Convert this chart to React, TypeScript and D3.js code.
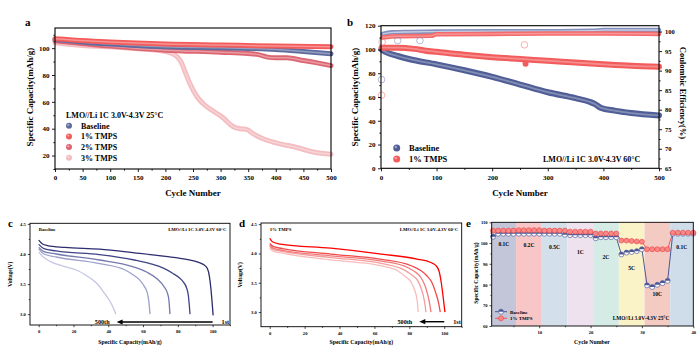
import { useEffect, useRef } from "react";
import * as d3 from "d3";

type Pt = [number, number];
const FONT = "'Liberation Serif','Times New Roman',serif";

// panel a: LMO//Li 1C 25°C cycling
const aBaseline: Pt[] = [[0, 106.5], [100, 103], [200, 101], [300, 100.2], [350, 99.8], [400, 99], [450, 97.5], [500, 95.8]];
const aTmps1: Pt[] = [[0, 107], [100, 104.5], [200, 103], [300, 102.3], [400, 101.6], [500, 101]];
const aTmps2: Pt[] = [[0, 105.5], [100, 101.5], [200, 98.5], [300, 97], [350, 96], [370, 95], [385, 93.3], [400, 92.8], [420, 92.8], [450, 90.8], [475, 89], [500, 87]];
const aTmps3: Pt[] = [[0, 104], [50, 102], [100, 101], [150, 99.5], [200, 97.5], [212, 96], [220, 94], [228, 90], [236, 82], [245, 73], [257, 64], [270, 58], [287, 53], [305, 48], [318, 43], [325, 41], [335, 40], [347, 39.5], [360, 36], [377, 32.5], [400, 29.5], [438, 26], [470, 22.5], [500, 21]];
const aNames = ["Baseline", "1% TMPS", "2% TMPS", "3% TMPS"];
const aColors = ["#5d6b9e", "#f35a5a", "#dc6571", "#f3bdc1"];

// panel b: 60°C cycling, capacity + coulombic efficiency
const bBase: Pt[] = [[1, 100], [10, 97.5], [30, 94.5], [50, 92], [100, 87.5], [150, 82.5], [200, 77], [250, 70.5], [300, 64], [350, 59], [375, 56], [385, 54], [395, 51], [420, 48.5], [450, 46.5], [500, 44.5]];
const bTmps: Pt[] = [[1, 101.5], [30, 101.5], [60, 100.5], [80, 99], [100, 98], [150, 95.5], [200, 93.5], [250, 92], [300, 90.5], [350, 89], [400, 87.5], [450, 86.2], [500, 85.5]];
const bBaseCE: Pt[] = [[3, 99.4], [20, 99.8], [50, 99.9], [100, 100], [200, 100.1], [300, 100.1], [380, 100.2], [400, 100.4], [500, 100.4]];
const bTmpsCE: Pt[] = [[3, 98.5], [30, 98.8], [90, 98.9], [100, 99.3], [200, 99.4], [300, 99.5], [400, 99.5], [500, 99.4]];
const bBaseCEOut: Pt[] = [[1, 87.7], [30, 97.7], [70, 97.7]];
const bTmpsCEOut: Pt[] = [[1, 83.7], [2, 97.3], [258, 96.6]];
const bTmpsCapOut: Pt[] = [[260, 88]];

// panel c: baseline discharge curves, 1st -> 500th
const cCurves: Pt[][] = [
  [[0, 4.23], [2, 4.17], [5, 4.14], [15, 4.11], [35, 4.08], [55, 4.02], [73, 3.96], [85, 3.91], [92, 3.86], [95, 3.82], [97, 3.76], [98.2, 3.62], [99, 3.43], [99.7, 3.2], [100.3, 2.98]],
  [[0, 4.16], [3, 4.09], [10, 4.05], [35, 3.99], [55, 3.9], [64, 3.84], [72, 3.76], [77, 3.68], [81, 3.6], [83, 3.54], [85, 3.44], [86, 3.32], [86.6, 3.15], [87, 3.0]],
  [[0, 4.11], [3, 4.04], [10, 4.0], [35, 3.9], [54, 3.79], [62, 3.7], [68, 3.59], [72, 3.46], [74, 3.35], [74.8, 3.25], [75.5, 3.0]],
  [[0, 4.08], [3, 4.0], [10, 3.95], [35, 3.84], [50, 3.73], [55, 3.64], [58, 3.57], [61, 3.45], [62.5, 3.35], [63.4, 3.2], [64, 3.0]],
  [[0, 4.03], [3, 3.94], [7, 3.87], [15, 3.79], [22, 3.73], [28, 3.63], [31, 3.57], [35, 3.46], [37, 3.38], [40, 3.26], [42, 3.16], [44.4, 3.0]],
];
const cColors = ["#2b2d6e", "#3f4487", "#7479ad", "#9da1c9", "#c4c6e2"];

// panel d: 1% TMPS discharge curves
const dCurves: Pt[][] = [
  [[0, 4.26], [1.5, 4.2], [6, 4.16], [35, 4.09], [64, 3.99], [85, 3.9], [92, 3.85], [95, 3.8], [97, 3.7], [98.3, 3.5], [99.2, 3.3], [100.4, 3.0]],
  [[0, 4.17], [2, 4.12], [8, 4.08], [35, 3.99], [64, 3.9], [81, 3.79], [87, 3.7], [90, 3.62], [93, 3.5], [95, 3.34], [96.8, 3.15], [97.7, 3.0]],
  [[0, 4.14], [2, 4.09], [8, 4.05], [35, 3.96], [64, 3.87], [79, 3.76], [84, 3.67], [86.6, 3.59], [89, 3.45], [90.4, 3.31], [91.6, 3.15], [92.4, 3.0]],
  [[0, 4.12], [2, 4.07], [8, 4.03], [35, 3.93], [64, 3.83], [77, 3.72], [82, 3.62], [84.7, 3.54], [86.8, 3.4], [88, 3.28], [89, 3.12], [89.5, 3.0]],
  [[0, 4.09], [2, 4.04], [8, 4.0], [35, 3.89], [64, 3.79], [73, 3.71], [78, 3.6], [81, 3.51], [83, 3.38], [84.3, 3.23], [84.8, 3.1], [85, 3.0]],
];
const dColors = ["#ff0000", "#ef4b4b", "#f17a7a", "#f49d9d", "#f7bcbc"];

// panel e: rate capability
const eCycles = d3.range(1, 41);
const eBaseline = [103, 104.5, 104.5, 104.5, 104.5, 104.5, 104.5, 104.5, 104.5, 104.5, 104.5, 104.5, 104.5, 104.5, 104, 103.8, 103.8, 103.8, 103.8, 103.8, 102.3, 102.8, 102.8, 102.8, 102.8, 94.5, 95.4, 95.7, 96.1, 97, 79.6, 78.8, 79.9, 80.7, 81.8, 104.5, 104.5, 104.5, 104.5, 104.5];
const eTmps = [106, 106, 106, 106, 106, 106.2, 106.2, 106.2, 106.2, 106.2, 106, 106, 106, 106, 106, 105.5, 105.5, 105.5, 105.5, 105.5, 104.6, 104.6, 104.6, 104.6, 104.6, 101.2, 101.2, 101, 100.8, 100.6, 97, 97, 97, 97, 97, 105, 105, 105, 105, 105];
const eRates = ["0.1C", "0.2C", "0.5C", "1C", "2C", "5C", "10C", "0.1C"];
const eEdges = [0.75, 5.5, 10.5, 15.5, 20.5, 25.5, 30.5, 35.5, 40];
const eBandColors = ["#c3c6d9", "#f8c6c6", "#d3dfea", "#eee2ee", "#d5ebe5", "#fbf3c8", "#f4cbc3", "#cfdce9"];
const eLabelY = [99.4, 99.1, 98.2, 95.8, 93.4, 88.1, 75.4, 98.2];

type G = d3.Selection<SVGGElement, unknown, null, undefined>;
type Lin = d3.ScaleLinear<number, number>;

function text(g: G, x: number, y: number, s: string, fs: number, anchor = "start", rot = 0) {
  const t = g.append("text").attr("x", x).attr("y", y).attr("font-family", FONT).attr("font-weight", "bold")
    .attr("font-size", fs).attr("text-anchor", anchor).attr("fill", "#000").text(s);
  if (rot) t.attr("transform", `rotate(${rot},${x},${y})`).attr("dominant-baseline", "central");
  return t;
}

function styleAxis(a: G, fs: number, w: number) {
  a.select(".domain").remove();
  a.selectAll("line").attr("stroke", "#000").attr("stroke-width", w);
  a.selectAll("text").attr("font-family", FONT).attr("font-weight", "bold").attr("font-size", fs).attr("fill", "#000");
}

type AxOpt = { xTicks: number[]; xMinor?: number[]; yTicks: number[]; yMinor?: number[]; fs: number; tick: number; pad: number; fw: number; yFmt?: (v: number) => string };

function drawAxes(g: G, x: Lin, y: Lin, o: AxOpt) {
  const [x0, x1] = x.range();
  const [yb, yt] = y.range();
  const bot = g.append("g").attr("transform", `translate(0,${yb})`)
    .call(d3.axisBottom(x).tickValues(o.xTicks).tickSize(o.tick).tickPadding(o.pad).tickFormat((d) => String(d)));
  styleAxis(bot, o.fs, o.fw * 0.8);
  if (o.xMinor) {
    const m = g.append("g").attr("transform", `translate(0,${yb})`)
      .call(d3.axisBottom(x).tickValues(o.xMinor).tickSize(o.tick * 0.55).tickFormat(() => ""));
    styleAxis(m, o.fs, o.fw * 0.8);
  }
  const left = g.append("g").attr("transform", `translate(${x0},0)`)
    .call(d3.axisLeft(y).tickValues(o.yTicks).tickSize(o.tick).tickPadding(o.pad * 0.7)
      .tickFormat((d) => (o.yFmt ? o.yFmt(+d) : String(d))));
  styleAxis(left, o.fs, o.fw * 0.8);
  if (o.yMinor) {
    const m = g.append("g").attr("transform", `translate(${x0},0)`)
      .call(d3.axisLeft(y).tickValues(o.yMinor).tickSize(o.tick * 0.55).tickFormat(() => ""));
    styleAxis(m, o.fs, o.fw * 0.8);
  }
  g.append("rect").attr("x", x0).attr("y", yt).attr("width", x1 - x0).attr("height", yb - yt)
    .attr("fill", "none").attr("stroke", "#000").attr("stroke-width", o.fw);
}

function band(g: G, d: string | null, color: string, w: number, hl = 0.35) {
  g.append("path").attr("d", d).attr("fill", "none").attr("stroke", color).attr("stroke-width", w)
    .attr("stroke-linejoin", "round").attr("stroke-linecap", "round");
  g.append("path").attr("d", d).attr("fill", "none").attr("stroke", "#fff").attr("stroke-opacity", hl)
    .attr("stroke-width", w * 0.3);
}

function drawA(g: G) {
  const x = d3.scaleLinear().domain([0, 500]).range([55, 331]);
  const y = d3.scaleLinear().domain([10, 115]).range([169, 28]);
  const line = d3.line<Pt>().x((d) => x(d[0])).y((d) => y(d[1])).curve(d3.curveMonotoneX);
  const series = [aBaseline, aTmps1, aTmps2, aTmps3];
  [3, 2, 0, 1].forEach((i) => band(g, line(series[i]), aColors[i], 5));
  drawAxes(g, x, y, { xTicks: d3.range(0, 501, 50), xMinor: d3.range(25, 500, 50), yTicks: [20, 40, 60, 80, 100], yMinor: [10, 30, 50, 70, 90, 110], fs: 7, tick: 3, pad: 3.5, fw: 1.1 });
  text(g, 25, 26, "a", 11);
  text(g, 193, 196, "Cycle Number", 9, "middle");
  text(g, 30, 97, "Specific Capacity(mAh/g)", 9, "middle", -90);
  text(g, 66, 117.5, "LMO//Li 1C 3.0V-4.3V 25°C", 8);
  aNames.forEach((n, i) => {
    const cy = 125.7 + i * 10.7;
    g.append("circle").attr("cx", 69).attr("cy", cy).attr("r", 3).attr("fill", aColors[i]);
    g.append("circle").attr("cx", 68.3).attr("cy", cy - 0.8).attr("r", 1.1).attr("fill", "#fff").attr("opacity", 0.45);
    text(g, 81, cy + 2.8, n, 8);
  });
}

function drawB(g: G) {
  const x = d3.scaleLinear().domain([0, 500]).range([381, 659]);
  const y = d3.scaleLinear().domain([0, 120]).range([168.3, 25.7]);
  const yR = d3.scaleLinear().domain([65, 101.5]).range([168.3, 25.7]);
  const line = d3.line<Pt>().x((d) => x(d[0])).y((d) => y(d[1])).curve(d3.curveMonotoneX);
  const lineR = d3.line<Pt>().x((d) => x(d[0])).y((d) => yR(d[1])).curve(d3.curveMonotoneX);
  band(g, lineR(bBaseCE), "#8391c0", 4.5, 0.55);
  band(g, lineR(bTmpsCE), "#f46a6a", 4.5, 0.3);
  band(g, line(bBase), "#4f5e96", 6, 0.3);
  band(g, line(bTmps), "#f25c5c", 6, 0.3);
  bBaseCEOut.forEach((p) => g.append("circle").attr("cx", x(p[0])).attr("cy", yR(p[1])).attr("r", 3.3).attr("fill", "none").attr("stroke", "#7f8cba").attr("stroke-width", 0.6));
  bTmpsCEOut.forEach((p) => g.append("circle").attr("cx", x(p[0])).attr("cy", yR(p[1])).attr("r", 3.3).attr("fill", "none").attr("stroke", "#f47a7a").attr("stroke-width", 0.6));
  bTmpsCapOut.forEach((p) => g.append("circle").attr("cx", x(p[0])).attr("cy", y(p[1])).attr("r", 3).attr("fill", "#f25c5c"));
  drawAxes(g, x, y, { xTicks: d3.range(0, 501, 100), xMinor: d3.range(50, 500, 100), yTicks: d3.range(0, 121, 20), yMinor: d3.range(10, 120, 20), fs: 7, tick: 3, pad: 3.5, fw: 1.1 });
  const right = g.append("g").attr("transform", `translate(${x.range()[1]},0)`)
    .call(d3.axisRight(yR).tickValues(d3.range(65, 101, 5)).tickSize(3).tickPadding(3).tickFormat((d) => String(d)));
  styleAxis(right, 6.5, 0.9);
  const rm = g.append("g").attr("transform", `translate(${x.range()[1]},0)`)
    .call(d3.axisRight(yR).tickValues(d3.range(67.5, 101, 5)).tickSize(1.6).tickFormat(() => ""));
  styleAxis(rm, 6.5, 0.9);
  text(g, 347, 26, "b", 11);
  text(g, 520, 196, "Cycle Number", 9, "middle");
  text(g, 355, 97, "Specific Capacity(mAh/g)", 9, "middle", -90);
  text(g, 683, 93, "Coulombic Efficiency(%)", 8.5, "middle", 90);
  [["Baseline", "#4f5e96"], ["1% TMPS", "#f25c5c"]].forEach(([n, c], i) => {
    const cy = 148 + i * 11;
    g.append("circle").attr("cx", 396.7).attr("cy", cy).attr("r", 3.5).attr("fill", c);
    g.append("circle").attr("cx", 395.8).attr("cy", cy - 1).attr("r", 1.2).attr("fill", "#fff").attr("opacity", 0.45);
    text(g, 409, cy + 3, n, 8.5);
  });
  text(g, 543, 161.5, "LMO//Li 1C 3.0V-4.3V 60°C", 8);
}

function drawVolt(g: G, x: Lin, y: Lin, curves: Pt[][], colors: string[], name: string, tag: string, tagY: number, arrowTip: number, arrowV: number, yTitleX: number) {
  const line = d3.line<Pt>().x((d) => x(d[0])).y((d) => y(d[1])).curve(d3.curveMonotoneX);
  curves.slice().reverse().forEach((c, i) => {
    g.append("path").attr("d", line(c)).attr("fill", "none").attr("stroke", colors[curves.length - 1 - i]).attr("stroke-width", 1.3);
  });
  drawAxes(g, x, y, { xTicks: [0, 20, 40, 60, 80, 100], xMinor: [10, 30, 50, 70, 90, 110], yTicks: [3.0, 3.5, 4.0, 4.5], yMinor: [3.25, 3.75, 4.25], fs: 4.6, tick: 2.2, pad: 2.8, fw: 0.9, yFmt: (v) => v.toFixed(1) });
  const [x0, x1] = x.range();
  const [yb, yt] = y.range();
  text(g, x0 - 22, tagY, tag, 11);
  text(g, (x0 + x1) / 2, 343.5, "Specific Capacity(mAh/g)", 5.8, "middle");
  text(g, yTitleX, (yb + yt) / 2, "Voltage(V)", 5.5, "middle", -90);
  text(g, x(0), yt + 7.5, name, 4.8);
  text(g, x1 - 3.5, yt + 7.5, "LMO//Li 1C 3.0V-4.3V 60°C", 4.8, "end");
  const ay = y(arrowV);
  const tip = x(arrowTip);
  g.append("line").attr("x1", x(100)).attr("x2", tip + 4).attr("y1", ay).attr("y2", ay).attr("stroke", "#000").attr("stroke-width", 1.4);
  g.append("path").attr("d", `M${tip},${ay} L${tip + 6},${ay - 2.6} L${tip + 6},${ay + 2.6} Z`).attr("fill", "#000");
  text(g, tip - 7, ay + 2.2, "500th", 6.2, "end");
  text(g, x(100) + 9, ay + 2.2, "1st", 6.2);
}

function drawE(g: G) {
  const x = d3.scaleLinear().domain([0.75, 40]).range([491.7, 693.3]);
  const y = d3.scaleLinear().domain([60, 110]).range([326, 222.3]);
  eRates.forEach((r, i) => {
    g.append("rect").attr("x", x(eEdges[i])).attr("y", y(110)).attr("width", x(eEdges[i + 1]) - x(eEdges[i]))
      .attr("height", y(60) - y(110)).attr("fill", eBandColors[i]);
  });
  const lb = d3.line<number>().x((_, i) => x(eCycles[i])).y((d) => y(d));
  g.append("path").attr("d", lb(eBaseline)).attr("fill", "none").attr("stroke", "#3b4a8c").attr("stroke-width", 0.9);
  g.append("path").attr("d", lb(eTmps)).attr("fill", "none").attr("stroke", "#f04848").attr("stroke-width", 0.9);
  const baseMark = (cx: number, cy: number) => {
    g.append("circle").attr("cx", cx).attr("cy", cy).attr("r", 2.5).attr("fill", "#fff").attr("stroke", "#3b4a8c").attr("stroke-width", 0.6);
    g.append("path").attr("d", `M${cx - 2.5},${cy} A2.5,2.5 0 0 1 ${cx + 2.5},${cy} Z`).attr("fill", "#4a5896");
  };
  const tmpsMark = (cx: number, cy: number) => {
    g.append("circle").attr("cx", cx).attr("cy", cy).attr("r", 2.5).attr("fill", "#f68888").attr("stroke", "#ee3f3f").attr("stroke-width", 0.6);
  };
  eBaseline.forEach((v, i) => baseMark(x(eCycles[i]), y(v)));
  eTmps.forEach((v, i) => tmpsMark(x(eCycles[i]), y(v)));
  drawAxes(g, x, y, { xTicks: [10, 20, 30, 40], xMinor: [5, 15, 25, 35], yTicks: [60, 70, 80, 90, 100, 110], yMinor: [65, 75, 85, 95, 105], fs: 4.6, tick: 2.2, pad: 2.8, fw: 0.9 });
  eRates.forEach((r, i) => {
    text(g, x((eEdges[i] + eEdges[i + 1]) / 2), y(eLabelY[i]) + 2, r, 5.6, "middle");
  });
  text(g, 466, 227, "e", 11);
  text(g, 592, 343.5, "Cycle Number", 5.8, "middle");
  text(g, 476, 273, "Specific Capacity(mAh/g)", 5.6, "middle", -90);
  g.append("line").attr("x1", 495).attr("x2", 507).attr("y1", 311.7).attr("y2", 311.7).attr("stroke", "#3b4a8c").attr("stroke-width", 0.9);
  baseMark(501, 311.7);
  text(g, 510, 313.5, "Baseline", 5);
  g.append("line").attr("x1", 495).attr("x2", 507).attr("y1", 318.3).attr("y2", 318.3).attr("stroke", "#f04848").attr("stroke-width", 0.9);
  tmpsMark(501, 318.3);
  text(g, 510, 320.1, "1% TMPS", 5);
  text(g, 641, 320.1, "LMO//Li 3.0V-4.3V 25°C", 5.3, "middle");
}

export default function App() {
  const ref = useRef<SVGSVGElement>(null);
  useEffect(() => {
    const svg = d3.select(ref.current);
    svg.selectAll("*").remove();
    drawA(svg.append("g") as unknown as G);
    drawB(svg.append("g") as unknown as G);
    const cx = d3.scaleLinear().domain([-5, 110]).range([30, 230]);
    const cy = d3.scaleLinear().domain([2.82, 4.51]).range([325, 223.3]);
    drawVolt(svg.append("g") as unknown as G, cx, cy, cCurves, cColors, "Baseline", "c", 227, 44.8, 2.87, 10);
    const dx = d3.scaleLinear().domain([-5, 110]).range([261, 461.7]);
    const dy = d3.scaleLinear().domain([2.75, 4.52]).range([326.7, 223]);
    drawVolt(svg.append("g") as unknown as G, dx, dy, dCurves, dColors, "1% TMPS", "d", 227, 85.7, 2.835, 240);
    drawE(svg.append("g") as unknown as G);
  }, []);
  return <svg ref={ref} width={700} height={358} style={{ position: "absolute", left: 0, top: 0, background: "#fff" }} />;
}
